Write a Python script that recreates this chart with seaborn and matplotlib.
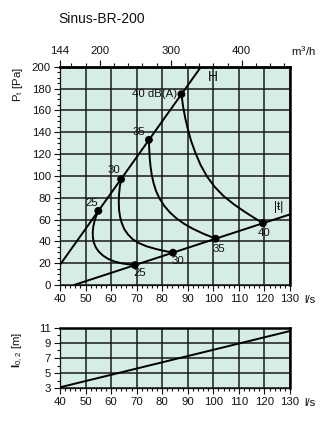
import matplotlib
matplotlib.use("Agg")
import matplotlib.pyplot as plt
import seaborn as sns
import pandas as pd
from matplotlib.ticker import MultipleLocator, FixedLocator

# ---- data ---------------------------------------------------------------
flow_ticks = [40, 50, 60, 70, 80, 90, 100, 110, 120, 130]
pressure_ticks = [0, 20, 40, 60, 80, 100, 120, 140, 160, 180, 200]
throw_ticks = [3, 5, 7, 9, 11]
m3h_ticks = [144, 200, 300, 400]

# fully open damper line (H) and throttled line (|+|)
open_flow = [40.0, 95.2]
open_pt = [18.5, 200.0]
closed_flow = [45.5, 130.0]
closed_pt = [0.0, 64.7]

# sound power curves, dB(A)
db25_flow = [55.0, 54.2, 53.5, 53.0, 52.8, 52.9, 53.3, 54.0, 55.2, 56.8, 58.8, 61.2, 64.2, 69.3]
db25_pt = [67.9, 63.5, 58.5, 53.0, 48.0, 43.0, 38.5, 34.5, 30.5, 27.0, 24.0, 21.6, 19.8, 18.2]
db30_flow = [63.9, 63.4, 63.1, 63.0, 63.1, 63.5, 64.2, 65.2, 66.6, 68.4, 70.8, 73.8, 77.5, 80.8, 84.2]
db30_pt = [96.9, 90.0, 83.0, 76.0, 69.0, 62.5, 56.5, 51.0, 46.3, 42.0, 38.5, 35.5, 33.0, 31.2, 29.6]
db35_flow = [74.8, 74.9, 75.1, 75.4, 75.9, 76.6, 77.6, 79.0, 80.8, 83.0, 85.6, 88.6, 92.0, 95.8, 100.9]
db35_pt = [133.0, 125.0, 117.0, 109.0, 101.0, 93.5, 86.0, 79.0, 72.5, 66.5, 61.0, 56.0, 51.5, 47.3, 42.4]
db40_flow = [87.5, 88.2, 89.0, 90.0, 91.3, 93.0, 95.0, 97.5, 100.5, 104.0, 108.0, 112.0, 116.0, 119.4]
db40_pt = [174.8, 163.0, 153.0, 143.0, 132.0, 121.0, 110.0, 99.5, 90.0, 81.5, 74.0, 67.5, 61.5, 56.6]

# throw l0,2 versus airflow
throw_flow = [40.0, 130.0]
throw_m = [3.13, 10.56]

# ---- style --------------------------------------------------------------
sns.set_style("ticks", {"axes.facecolor": "#d6ece7"})
plt.rcParams["font.family"] = ["Liberation Sans", "DejaVu Sans"]
plt.rcParams["mathtext.fontset"] = "custom"
plt.rcParams["mathtext.rm"] = "Liberation Sans"
plt.rcParams["mathtext.bf"] = "Liberation Sans:bold"
plt.rcParams["mathtext.it"] = "Liberation Sans:italic"

FS = 8.2
INK = "#111111"
GRID = "#1a1a1a"

fig = plt.figure(figsize=(3.34, 4.34), dpi=100)
ax = fig.add_axes([60 / 334, 1 - 285 / 434, 230 / 334, 218.3 / 434])
ax2 = fig.add_axes([60 / 334, 1 - 388.3 / 434, 230 / 334, 60.6 / 434])


def style_axes(a, yticks, yminor):
    a.set_xlim(40, 130)
    a.xaxis.set_major_locator(FixedLocator(flow_ticks))
    a.xaxis.set_minor_locator(MultipleLocator(2))
    a.yaxis.set_major_locator(FixedLocator(yticks))
    a.yaxis.set_minor_locator(MultipleLocator(yminor))
    a.grid(True, which="major", color=GRID, lw=1.1)
    a.tick_params(which="major", direction="out", length=4.0, width=0.8,
                  labelsize=FS, pad=2.5, colors=INK)
    a.tick_params(which="minor", direction="out", length=2.4, width=0.8, colors=INK)
    for side in ("left", "bottom"):
        a.spines[side].set_linewidth(0.9)
        a.spines[side].set_color(INK)
    for side in ("top", "right"):
        a.spines[side].set_visible(True)
        a.spines[side].set_linewidth(1.8)
        a.spines[side].set_color("black")
    a.set_xlabel("")
    a.set_ylabel("")


# ---- pressure chart -----------------------------------------------------
lw = 1.4
curves = [
    (open_flow, open_pt),
    (closed_flow, closed_pt),
    (db25_flow, db25_pt),
    (db30_flow, db30_pt),
    (db35_flow, db35_pt),
    (db40_flow, db40_pt),
]
for fx, fy in curves:
    sns.lineplot(x=fx, y=fy, sort=False, estimator=None, color="black",
                 lw=lw, ax=ax, zorder=3)

dots = pd.DataFrame({
    "flow": [db25_flow[0], db30_flow[0], db35_flow[0], db40_flow[0],
             db25_flow[-1], db30_flow[-1], db35_flow[-1], db40_flow[-1]],
    "pt": [db25_pt[0], db30_pt[0], db35_pt[0], db40_pt[0],
           db25_pt[-1], db30_pt[-1], db35_pt[-1], db40_pt[-1]],
})
sns.scatterplot(data=dots, x="flow", y="pt", color="black", s=32,
                edgecolor="none", ax=ax, zorder=4)

ax.set_ylim(0, 200)
style_axes(ax, pressure_ticks, 5)

lab_kw = dict(fontsize=FS, color=INK, zorder=5)
ax.text(86.0, 174.8, "40 dB(A)", ha="right", va="center", **lab_kw)
ax.text(71.0, 139.8, "35", ha="center", va="center", **lab_kw)
ax.text(60.9, 105.3, "30", ha="center", va="center", **lab_kw)
ax.text(52.4, 75.4, "25", ha="center", va="center", **lab_kw)
ax.text(71.3, 10.7, "25", ha="center", va="center", **lab_kw)
ax.text(86.0, 22.0, "30", ha="center", va="center", **lab_kw)
ax.text(102.3, 32.7, "35", ha="center", va="center", **lab_kw)
ax.text(119.9, 47.3, "40", ha="center", va="center", **lab_kw)
ax.text(100.0, 190.5, "H", ha="center", va="center", fontsize=10, color=INK)
ax.text(125.7, 71.2, "|ŧ|", ha="center", va="center", fontsize=8.5, color=INK)

# airflow in m3/h along the top
top = ax.secondary_xaxis("top", functions=(lambda q: q * 3.6, lambda q: q / 3.6))
top.xaxis.set_major_locator(FixedLocator(m3h_ticks))
top.xaxis.set_minor_locator(FixedLocator(list(range(160, 468, 20))))
top.tick_params(which="major", direction="out", length=5.0, width=0.8,
                labelsize=FS, pad=2.5, colors=INK)
top.tick_params(which="minor", direction="out", length=2.6, width=0.8, colors=INK)
top.spines["top"].set_linewidth(1.8)

# ---- throw chart --------------------------------------------------------
sns.lineplot(x=throw_flow, y=throw_m, sort=False, estimator=None,
             color="black", lw=lw, ax=ax2, zorder=3)
ax2.set_ylim(3, 11)
style_axes(ax2, throw_ticks, 1)

# ---- labels -------------------------------------------------------------
fig.text(58 / 334, 1 - 19 / 434, "Sinus-BR-200", fontsize=10, color=INK,
         ha="left", va="center")
fig.text(291 / 334, 1 - 56.5 / 434, "m$^3$/h", fontsize=FS, color=INK,
         ha="left", va="baseline")
fig.text(304 / 334, 1 - 300 / 434, "l/s", fontsize=FS, color=INK,
         ha="left", va="center")
fig.text(304 / 334, 1 - 402.5 / 434, "l/s", fontsize=FS, color=INK,
         ha="left", va="center")
fig.text(18 / 334, 1 - 85 / 434, "P$_{\\mathrm{t}}$ [Pa]", fontsize=FS,
         color=INK, rotation=90, ha="center", va="center")
fig.text(18 / 334, 1 - 350 / 434, "$\\mathbf{l}_{0,2}$ [m]", fontsize=FS,
         color=INK, rotation=90, ha="center", va="center")

fig.savefig("out.png", dpi=100)
